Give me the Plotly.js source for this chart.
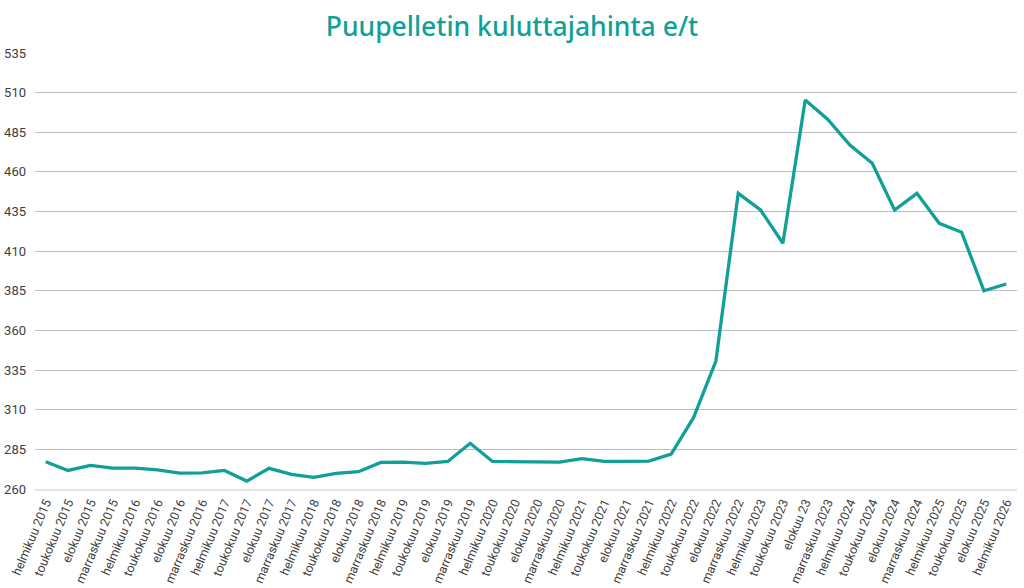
<!DOCTYPE html>
<html>
<head>
<meta charset="utf-8">
<script src="https://cdn.plot.ly/plotly-3.0.1.min.js"></script>
<style>
  html, body { margin: 0; padding: 0; background: #fff; }
  #chart { width: 1024px; height: 588px; }
</style>
</head>
<body>
<div id="chart"></div>
<script>
// quarterly labels (no marraskuu 2025 in the source)
var labels = [
  'helmikuu 2015', 'toukokuu 2015', 'elokuu 2015', 'marraskuu 2015',
  'helmikuu 2016', 'toukokuu 2016', 'elokuu 2016', 'marraskuu 2016',
  'helmikuu 2017', 'toukokuu 2017', 'elokuu 2017', 'marraskuu 2017',
  'helmikuu 2018', 'toukokuu 2018', 'elokuu 2018', 'marraskuu 2018',
  'helmikuu 2019', 'toukokuu 2019', 'elokuu 2019', 'marraskuu 2019',
  'helmikuu 2020', 'toukokuu 2020', 'elokuu 2020', 'marraskuu 2020',
  'helmikuu 2021', 'toukokuu 2021', 'elokuu 2021', 'marraskuu 2021',
  'helmikuu 2022', 'toukokuu 2022', 'elokuu 2022', 'marraskuu 2022',
  'helmikuu 2023', 'toukokuu 2023', 'elokuu 23', 'marraskuu 2023',
  'helmikuu 2024', 'toukokuu 2024', 'elokuu 2024', 'marraskuu 2024',
  'helmikuu 2025', 'toukokuu 2025', 'elokuu 2025', 'helmikuu 2026'
];

// price e/t
var prices = [
  277.2, 271.7, 274.9, 273.2,
  273.2, 272.1, 270.0, 270.2,
  271.7, 265.0, 273.0, 269.2,
  267.3, 269.9, 270.9, 276.8,
  277.0, 276.2, 277.4, 288.8,
  277.4, 277.4, 277.2, 277.0,
  279.1, 277.4, 277.4, 277.6,
  282.0, 305.0, 340.7, 446.5,
  436.0, 415.0, 505.4, 493.2,
  477.0, 465.4, 436.0, 446.5,
  427.6, 422.0, 385.0, 389.3
];

var yTicks = [260, 285, 310, 335, 360, 385, 410, 435, 460, 485, 510, 535];

var teal = '#119f99';

var trace = {
  x: labels,
  y: prices,
  mode: 'lines',
  type: 'scatter',
  line: { color: teal, width: 3.3 },
  hoverinfo: 'x+y'
};

var layout = {
  width: 1024,
  height: 588,
  paper_bgcolor: '#fff',
  plot_bgcolor: '#fff',
  showlegend: false,
  font: { family: 'Roboto, sans-serif', size: 13, color: '#404040' },
  title: {
    text: 'Puupelletin kuluttajahinta e/t',
    font: { family: '"Noto Sans", sans-serif', size: 26.5, color: teal, weight: 500 },
    x: 0.5,
    xanchor: 'center',
    y: 0.955,
    yanchor: 'middle'
  },
  xaxis: {
    type: 'category',
    range: [-0.48, labels.length - 1 + 0.48],
    tickangle: -67,
    showgrid: false,
    zeroline: false,
    showline: true,
    linecolor: '#e4e4e4',
    linewidth: 1.5,
    layer: 'above traces',
    ticks: '',
    tickfont: { family: 'Roboto, sans-serif', size: 12.4, color: '#404040' },
    fixedrange: true
  },
  yaxis: {
    range: [260, 535],
    tickvals: yTicks,
    showgrid: true,
    gridcolor: '#bdbdbd',
    gridwidth: 1,
    zeroline: false,
    showline: false,
    ticks: '',
    ticklabelstandoff: 8,
    tickfont: { family: 'Roboto, sans-serif', size: 13, color: '#404040' },
    fixedrange: true
  },
  margin: { l: 35, r: 7, t: 53, b: 99, pad: 0 }
};

var config = { displayModeBar: false, displaylogo: false, staticPlot: true };

Plotly.newPlot('chart', [trace], layout, config);
</script>
</body>
</html>
